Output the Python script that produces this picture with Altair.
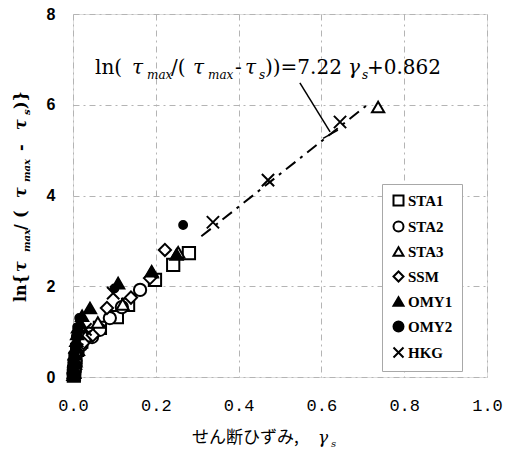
import altair as alt
import pandas as pd

# ---- data ----
series_names = ["STA1", "STA2", "STA3", "SSM", "OMY1", "OMY2", "HKG"]

sta1_x = [0.002, 0.003, 0.004, 0.006, 0.010, 0.020, 0.035, 0.065, 0.106, 0.133, 0.198, 0.242, 0.280]
sta1_y = [0.03, 0.12, 0.25, 0.40, 0.60, 0.78, 0.95, 1.08, 1.32, 1.59, 2.14, 2.47, 2.73]

sta2_x = [0.002, 0.004, 0.006, 0.010, 0.020, 0.046, 0.065, 0.089, 0.118, 0.162]
sta2_y = [0.05, 0.20, 0.35, 0.55, 0.70, 0.88, 1.04, 1.30, 1.54, 1.92]

sta3_x = [0.003, 0.006, 0.012, 0.030, 0.060, 0.120, 0.190, 0.254, 0.737]
sta3_y = [0.10, 0.35, 0.60, 0.90, 1.20, 1.60, 2.31, 2.75, 5.95]

ssm_x = [0.002, 0.005, 0.010, 0.025, 0.048, 0.082, 0.140, 0.186, 0.222]
ssm_y = [0.10, 0.30, 0.55, 0.75, 0.92, 1.52, 1.75, 2.18, 2.80]

omy1_x = [0.001, 0.002, 0.002, 0.003, 0.004, 0.005, 0.006, 0.008, 0.010, 0.012, 0.017, 0.022,
          0.041, 0.109, 0.190, 0.250]
omy1_y = [0.05, 0.20, 0.10, 0.35, 0.50, 0.30, 0.65, 0.80, 0.95, 1.10, 1.19, 1.35,
          1.52, 2.07, 2.33, 2.70]

omy2_x = [0.001, 0.002, 0.003, 0.005, 0.007, 0.010, 0.015, 0.100, 0.266]
omy2_y = [0.10, 0.30, 0.50, 0.70, 0.90, 1.10, 1.30, 1.95, 3.35]

hkg_x = [0.003, 0.010, 0.030, 0.097, 0.338, 0.471, 0.645]
hkg_y = [0.20, 0.60, 1.05, 1.85, 3.41, 4.34, 5.62]

# regression line end points and equation label
fit_x = [0.31, 0.71]
fit_y = [3.10, 5.99]
leader_x = [0.548, 0.621]
leader_y = [6.48, 5.40]
leader2_x = [0.604, 0.640]
leader2_y = [5.26, 5.44]

# rich-text pieces and their roles: m = normal, g = greek italic, s = subscript
eq_parts = ["ln(", "τ", "max", "/(", "τ", "max", "-", "τ", "s", "))=7.22", "γ", "s", "+0.862"]
eq_roles = ["m", "g", "s", "m", "g", "s", "m", "g", "s", "m", "g", "s", "m"]
ytitle_parts = ["ln{", "τ", "max", "/", "(", "τ", "max", "-", "τ", "s", ")}"]
ytitle_roles = ["m", "g", "s", "m", "m", "g", "s", "m", "g", "s", "m"]
xtitle_parts = ["せん断ひずみ,", "γ", "s"]
xtitle_roles = ["m", "g", "s"]

x_ticks = [0.0, 0.2, 0.4, 0.6, 0.8, 1.0]
y_ticks = [0, 2, 4, 6, 8]

# ---- layout (pixel offsets of the rich-text pieces along their line) ----
PW, PH = 414, 363
XPX = PW / 1.0
YPX = PH / 8.0
eq_off = [0, 37, 52, 76, 98, 113, 140, 150, 164, 170, 253, 267, 272]
yt_off = [0, 30, 50, 72, 84, 104, 120, 151, 172, 187, 193]
xt_off = [0, 126, 139]


def rich_rows(parts, roles, offs, x0, y0, vertical, tag):
    out = []
    for t, r, o in zip(parts, roles, offs):
        if vertical:
            out.append({"x": x0, "y": y0 + o / YPX, "t": t, "k": tag + r})
        else:
            out.append({"x": x0 + o / XPX, "y": y0, "t": t, "k": tag + r})
    return out


# ---- tables ----
rows = []
for name, xs, ys in [
        ("STA1", sta1_x, sta1_y), ("STA2", sta2_x, sta2_y), ("STA3", sta3_x, sta3_y),
        ("SSM", ssm_x, ssm_y), ("OMY1", omy1_x, omy1_y), ("OMY2", omy2_x, omy2_y),
        ("HKG", hkg_x, hkg_y)]:
    for a, b in zip(xs, ys):
        rows.append({"series": name, "x": a, "y": b})
df = pd.DataFrame(rows)

fit_df = pd.DataFrame({"x": fit_x, "y": fit_y})
lead_df = pd.DataFrame({"x": [leader_x[0], leader2_x[0]], "y": [leader_y[0], leader2_y[0]],
                        "x2": [leader_x[1], leader2_x[1]], "y2": [leader_y[1], leader2_y[1]]})

txt_rows = []
txt_rows += rich_rows(eq_parts, eq_roles, eq_off, (95 - 73) / XPX, (377 - 74) / YPX, False, "e")
txt_rows += rich_rows(ytitle_parts, ytitle_roles, yt_off, (26 - 73) / XPX, (377 - 302) / YPX, True, "y")
txt_rows += rich_rows(xtitle_parts, xtitle_roles, xt_off, (192 - 73) / XPX, -(443 - 377) / YPX, False, "x")
txt_df = pd.DataFrame(txt_rows)

cross = "M-1,-1L1,1M-1,1L1,-1"
shape_range = ["square", "circle", "triangle-up", "diamond", "triangle-up", "circle", cross]
fill_range = ["white", "white", "white", "white", "black", "black", "black"]
stroke_range = ["black"] * 7

xscale = alt.Scale(domain=[0, 1], nice=False)
yscale = alt.Scale(domain=[0, 8], nice=False)

grid_kw = dict(grid=True, gridColor="#b4b4b4", gridDash=[6, 4, 2, 4], gridWidth=1,
               ticks=False, domain=False, labelFlush=False, title=None)
xenc = alt.X("x:Q", scale=xscale, axis=alt.Axis(
    values=x_ticks, format=".1f", labelFont="Liberation Mono", labelFontSize=17,
    labelColor="black", labelPadding=20, **grid_kw))
yenc = alt.Y("y:Q", scale=yscale, axis=alt.Axis(
    values=y_ticks, format="d", labelFont="Liberation Sans", labelFontSize=16,
    labelFontWeight="bold", labelColor="black", labelPadding=18, **grid_kw))

leg = alt.Legend(title=None, orient="none", legendX=309, legendY=170,
                 labelFont="Liberation Serif", labelFontSize=15, labelFontWeight="bold",
                 labelColor="black", symbolSize=100, symbolStrokeWidth=2,
                 rowPadding=7, padding=9, labelOffset=2,
                 strokeColor="#a8a8a8", fillColor="white")
shape_enc = alt.Shape("series:N", scale=alt.Scale(domain=series_names, range=shape_range), legend=leg)
fill_enc = alt.Fill("series:N", scale=alt.Scale(domain=series_names, range=fill_range), legend=leg)
stroke_enc = alt.Stroke("series:N", scale=alt.Scale(domain=series_names, range=stroke_range), legend=leg)

base = alt.Chart(df).encode(x=xenc, y=yenc, shape=shape_enc, fill=fill_enc, stroke=stroke_enc)

pts_main = base.transform_filter(alt.datum.series != "OMY2").mark_point(
    size=150, strokeWidth=2, opacity=1, filled=False)
pts_dot = base.transform_filter(alt.datum.series == "OMY2").mark_point(
    size=70, strokeWidth=1.5, opacity=1, filled=False)

fit = alt.Chart(fit_df).mark_line(color="black", strokeWidth=2, strokeDash=[12, 6, 3, 6]).encode(
    x=alt.X("x:Q", scale=xscale), y=alt.Y("y:Q", scale=yscale))

lead = alt.Chart(lead_df).mark_rule(color="black", strokeWidth=1.5).encode(
    x=alt.X("x:Q", scale=xscale), y=alt.Y("y:Q", scale=yscale), x2="x2:Q", y2="y2:Q")


def txt_layer(kind, **mk):
    return alt.Chart(txt_df).transform_filter(alt.datum.k == kind).mark_text(
        align="left", baseline="alphabetic", color="black", **mk).encode(
        x=alt.X("x:Q", scale=xscale), y=alt.Y("y:Q", scale=yscale), text="t:N")


serif = "DejaVu Serif"
texts = [
    txt_layer("em", font=serif, fontSize=20),
    txt_layer("eg", font=serif, fontSize=20, fontStyle="italic"),
    txt_layer("es", font=serif, fontSize=12, fontStyle="italic", dy=5),
    txt_layer("ym", font=serif, fontSize=16, fontWeight="bold", angle=270),
    txt_layer("yg", font=serif, fontSize=16, fontWeight="bold", fontStyle="italic", angle=270),
    txt_layer("ys", font=serif, fontSize=10, fontWeight="bold", fontStyle="italic", angle=270, dy=4),
    txt_layer("xm", font="Noto Sans CJK JP", fontSize=17),
    txt_layer("xg", font=serif, fontSize=17, fontStyle="italic"),
    txt_layer("xs", font=serif, fontSize=10, fontStyle="italic", dy=4),
]

chart = alt.layer(fit, lead, pts_main, pts_dot, *texts).properties(
    width=PW, height=PH,
    autosize=alt.AutoSizeParams(type="none"),
    padding={"left": 73, "top": 14, "right": 19, "bottom": 77},
).configure_view(stroke="black", strokeWidth=2.5).configure(background="white")

chart.save("out.html", embed_options={"renderer": "svg", "actions": False})
